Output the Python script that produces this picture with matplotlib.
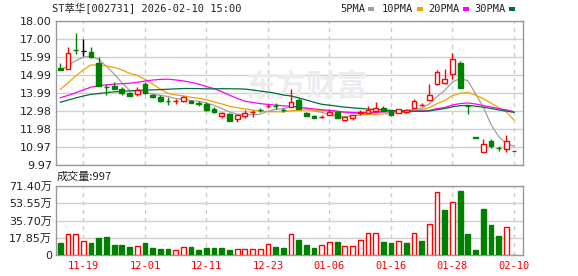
import matplotlib
matplotlib.use('Agg')
import matplotlib.pyplot as plt
from matplotlib.patches import Rectangle
import numpy as np
import pandas as pd

plt.rcParams['font.family'] = ['DejaVu Sans', 'Noto Sans CJK SC']
MONO = ['DejaVu Sans Mono', 'Noto Sans CJK SC']

title = 'ST萃华[002731] 2026-02-10 15:00'

# daily candles, 60 trading days
opens = [15.40, 15.31, 16.40, 16.33, 16.27, 15.64, 14.33, 14.39, 14.21, 13.97,
         13.93, 14.47, 13.89, 13.76, 13.55, 13.53, 13.54, 13.54, 13.40, 13.35,
         13.09, 12.72, 12.83, 12.54, 12.72, 12.90, 13.06, 13.25, 13.28, 13.05,
         13.22, 13.60, 12.89, 12.72, 12.64, 12.78, 12.90, 12.47, 12.57, 12.86,
         12.89, 12.98, 13.13, 13.02, 12.89, 12.91, 13.17, 13.31, 13.61, 14.49,
         14.53, 15.03, 15.64, 13.27, 11.52, 10.68, 11.30, 10.92, 10.86, 10.77]
highs = [15.68, 16.57, 17.32, 16.98, 16.53, 15.98, 14.47, 14.62, 14.34, 14.06,
         14.32, 14.58, 13.91, 13.87, 13.75, 13.65, 13.83, 13.60, 13.54, 13.50,
         13.22, 12.92, 12.89, 12.80, 13.04, 13.03, 13.17, 13.35, 13.41, 13.15,
         14.19, 13.73, 12.92, 12.76, 12.74, 13.10, 12.93, 12.66, 12.78, 13.04,
         13.28, 13.47, 13.26, 13.06, 13.12, 13.12, 13.65, 13.41, 14.47, 15.27,
         15.32, 16.22, 15.77, 13.27, 11.52, 11.42, 11.42, 11.04, 11.64, 10.77]
lows = [15.25, 15.31, 16.14, 16.07, 15.92, 14.35, 13.87, 14.19, 13.87, 13.80,
        13.82, 13.95, 13.69, 13.50, 13.32, 13.37, 13.47, 13.41, 13.28, 13.00,
        12.85, 12.61, 12.44, 12.38, 12.61, 12.67, 12.91, 13.13, 13.08, 12.94,
        13.20, 13.08, 12.70, 12.57, 12.57, 12.74, 12.58, 12.42, 12.49, 12.77,
        12.86, 12.95, 12.96, 12.70, 12.85, 12.88, 13.15, 13.24, 13.58, 14.44,
        14.50, 14.77, 14.28, 12.80, 11.50, 10.68, 10.90, 10.77, 10.71, 10.75]
closes = [15.29, 16.20, 16.37, 16.33, 15.99, 14.38, 14.31, 14.19, 13.97, 13.80,
          14.15, 13.97, 13.76, 13.56, 13.53, 13.55, 13.76, 13.41, 13.38, 13.02,
          12.91, 12.89, 12.44, 12.76, 12.87, 12.92, 13.04, 13.27, 13.26, 13.03,
          13.50, 13.08, 12.72, 12.57, 12.66, 12.90, 12.60, 12.63, 12.76, 12.90,
          13.04, 13.17, 12.99, 12.74, 13.07, 13.06, 13.54, 13.33, 13.87, 15.16,
          14.77, 15.88, 14.28, 13.25, 11.50, 11.12, 11.04, 10.90, 11.30, 10.75]
# closes before the first shown day, only needed for the moving averages
prev_closes = [12.6, 12.8, 13.1, 13.2, 13.0, 12.8, 12.9, 13.1, 13.2, 13.0,
               13.6, 13.4, 13.1, 12.9, 13.0, 13.2, 13.4, 13.5, 13.3, 13.1,
               12.55, 12.60, 12.90, 13.24, 14.42, 14.85, 14.97, 15.37, 15.71]

# volume in 万
volumes = [12.4, 21.3, 21.3, 14.1, 12.4, 17.5, 18.5, 10.3, 10.3, 8.2,
           8.9, 12.4, 7.2, 6.2, 6.2, 4.8, 7.9, 8.2, 5.2, 7.2,
           7.2, 7.2, 5.2, 5.8, 5.8, 5.8, 5.8, 11.0, 7.9, 7.0,
           21.5, 15.5, 10.3, 7.2, 10.0, 13.3, 13.4, 9.0, 9.0, 15.1,
           22.3, 22.3, 13.4, 12.4, 14.4, 12.4, 22.3, 14.4, 31.6, 65.6,
           46.4, 55.3, 65.9, 21.6, 5.2, 47.4, 30.9, 19.6, 28.5, 0.1]
vol_up = [0, 1, 1, 1, 0, 0, 0, 0, 0, 0,
          1, 0, 0, 0, 0, 1, 1, 0, 0, 0,
          0, 0, 0, 1, 1, 1, 1, 1, 0, 0,
          1, 0, 0, 0, 1, 1, 0, 1, 1, 1,
          1, 1, 0, 0, 1, 0, 1, 0, 1, 1,
          0, 1, 0, 0, 0, 0, 0, 0, 1, 0]

tick_pos = [3, 11, 19, 27, 35, 43, 51, 59]
tick_labels = ['11-19', '12-01', '12-11', '12-23', '01-06', '01-16', '01-28', '02-10']
price_ticks = [9.97, 10.97, 11.98, 12.98, 13.99, 14.99, 15.99, 17.00, 18.00]
vol_ticks = [0, 17.85, 35.70, 53.55, 71.40]
vol_labels = ['0', '17.85万', '35.70万', '53.55万', '71.40万']
ma_days = [5, 10, 20, 30]
ma_names = ['5PMA', '10PMA', '20PMA', '30PMA']
ma_colors = ['#a0a0a0', '#f5a000', '#ff00ff', '#006e3c']

RED = '#ff0000'
GREEN = '#008000'
W, H = 578, 276

fig = plt.figure(figsize=(W / 100, H / 100), dpi=100)
ax = fig.add_axes([56 / W, 111 / H, 467 / W, 144 / H])
axv = fig.add_axes([56 / W, 21 / H, 467 / W, 69 / H])

n = len(closes)
x = np.arange(n)
bw = 0.62

for a in (ax, axv):
    a.set_xlim(-0.56, n - 1 + 1.17)
    for s in a.spines.values():
        s.set_color('#999999')
        s.set_linewidth(1)
    a.tick_params(length=0, labelsize=8, colors='#222222', pad=3)
    for p in tick_pos:
        a.axvline(p, color='#cccccc', lw=1, ls=(0, (3, 3)), zorder=0)

# price panel
ax.set_ylim(9.97, 18.00)
ax.set_yticks(price_ticks)
ax.set_yticklabels(['%.2f' % v for v in price_ticks])
ax.set_xticks([])
for v in price_ticks:
    ax.axhline(v, color='#d0d0d0', lw=1, zorder=0)

ax.text(306 / W, 1 - 87 / H, '东方财富', transform=fig.transFigure, fontsize=22,
        fontweight='bold', color='#ececf0', ha='center', va='center',
        family=['Noto Sans CJK SC'], zorder=0.5)

all_close = pd.Series(prev_closes + closes)
for d, c in zip(ma_days, ma_colors):
    ma = all_close.rolling(d).mean().values[-n:]
    ax.plot(x, ma, color=c, lw=0.9, zorder=2)

for i in range(n):
    o, h, l, c = opens[i], highs[i], lows[i], closes[i]
    top, bot = max(o, c), min(o, c)
    if c > o:
        ax.vlines(i, top, h, color=RED, lw=1, zorder=3)
        ax.vlines(i, l, bot, color=RED, lw=1, zorder=3)
        ax.add_patch(Rectangle((i - bw / 2, bot), bw, top - bot, facecolor='white',
                               edgecolor=RED, lw=1, zorder=4))
    elif c < o:
        ax.vlines(i, l, h, color=GREEN, lw=1, zorder=3)
        ax.add_patch(Rectangle((i - bw / 2, bot), bw, top - bot, facecolor=GREEN,
                               edgecolor=GREEN, lw=1, zorder=4))
    else:
        ax.vlines(i, l, h, color='black', lw=1, zorder=3)
        ax.hlines(c, i - bw / 2, i + bw / 2, color='black', lw=1, zorder=4)

# volume panel
axv.set_ylim(0, 71.40)
axv.set_yticks(vol_ticks)
axv.set_yticklabels(vol_labels)
for v in vol_ticks[1:]:
    axv.axhline(v, color='#d0d0d0', lw=1, zorder=0)
axv.set_xticks(tick_pos)
axv.set_xticklabels(tick_labels, color=RED, family=MONO, fontsize=7.5)
axv.tick_params(axis='x', pad=4)

for i in range(n):
    if vol_up[i]:
        axv.bar(i, volumes[i], bw, facecolor='white', edgecolor=RED, lw=1, zorder=3)
    else:
        axv.bar(i, volumes[i], bw, facecolor=GREEN, edgecolor=GREEN, lw=1, zorder=3)

# header texts
fig.text(52 / W, 1 - 9 / H, title, family=MONO, fontsize=7.5, color='#222222', va='center')
leg_x = [340, 382, 428, 474]
for name, c, lx in zip(ma_names, ma_colors, leg_x):
    fig.text(lx / W, 1 - 9 / H, name, family=MONO, fontsize=7.5, color='#222222', va='center')
    tw = len(name) * 6.3
    fig.patches.append(Rectangle(((lx + tw + 3) / W, 1 - 11 / H), 6 / W, 4 / H,
                                 facecolor=c, edgecolor='none', transform=fig.transFigure))
fig.text(57 / W, 1 - 177 / H, '成交量:997', fontsize=8, color='#222222', va='center',
         family=['Noto Sans CJK SC'])

fig.savefig('out.png', dpi=100, facecolor='white')
